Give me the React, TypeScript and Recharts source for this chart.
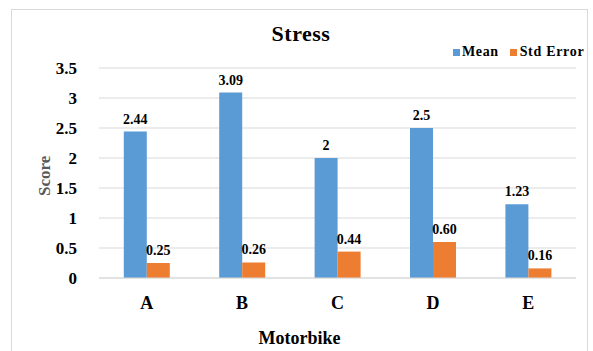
import { Bar, BarChart, CartesianGrid, LabelList, XAxis, YAxis } from 'recharts'

const categories = ['A', 'B', 'C', 'D', 'E']
const meanValues = [2.44, 3.09, 2, 2.5, 1.23]
const stdErrorValues = [0.25, 0.26, 0.44, 0.6, 0.16]
const stdErrorLabels = ['0.25', '0.26', '0.44', '0.60', '0.16']
const yTicks = [0, 0.5, 1, 1.5, 2, 2.5, 3, 3.5]

const data = categories.map((name, i) => ({
  name,
  mean: meanValues[i],
  stdError: stdErrorValues[i],
  stdErrorLabel: stdErrorLabels[i],
}))

const font = '"Liberation Serif", "Times New Roman", serif'
const blue = '#5B9BD5'
const orange = '#ED7D31'

export default function App() {
  return (
    <div style={{ position: 'absolute', left: 0, top: 0, width: 593, height: 351, background: '#fff', fontFamily: font }}>
      <div
        style={{
          position: 'absolute',
          left: 11,
          top: 9,
          width: 577,
          height: 360,
          border: '1px solid #d9d9d9',
          boxSizing: 'border-box',
        }}
      />
      <div
        style={{
          position: 'absolute',
          left: 0,
          width: 602,
          top: 21,
          textAlign: 'center',
          fontWeight: 'bold',
          fontSize: 22,
          letterSpacing: 0.5,
          color: '#000',
        }}
      >
        Stress
      </div>
      <div
        style={{
          position: 'absolute',
          left: 453,
          top: 44,
          display: 'flex',
          alignItems: 'center',
          fontWeight: 'bold',
          fontSize: 14,
          color: '#000',
        }}
      >
        <span style={{ width: 7, height: 7, background: blue, marginRight: 2 }} />
        <span style={{ marginRight: 11, letterSpacing: 0.6 }}>Mean</span>
        <span style={{ width: 7, height: 7, background: orange, marginRight: 3 }} />
        <span style={{ letterSpacing: 0.7 }}>Std Error</span>
      </div>
      <BarChart
        width={593}
        height={351}
        data={data}
        margin={{ top: 68, right: 17, bottom: 0, left: 0 }}
        barCategoryGap="26%"
        barGap={0}
        style={{ position: 'absolute', left: 0, top: 0 }}
      >
        <CartesianGrid vertical={false} stroke="#d9d9d9" strokeWidth={1} />
        <XAxis
          dataKey="name"
          height={73}
          axisLine={{ stroke: '#d9d9d9' }}
          tickLine={false}
          tickMargin={12}
          tick={{ fill: '#000', fontSize: 18, fontWeight: 'bold', fontFamily: font }}
          label={{
            value: 'Motorbike',
            position: 'insideBottom',
            offset: 7,
            dx: -38,
            fill: '#000',
            fontSize: 18,
            fontWeight: 'bold',
            fontFamily: font,
          }}
        />
        <YAxis
          width={99}
          domain={[0, 3.5]}
          ticks={yTicks}
          interval={0}
          axisLine={false}
          tickLine={false}
          tickMargin={16}
          tick={{ fill: '#000', fontSize: 17, fontWeight: 'bold', fontFamily: font }}
          label={{
            value: 'Score',
            angle: -90,
            position: 'insideLeft',
            offset: 44,
            dy: 23,
            fill: '#595959',
            fontSize: 17,
            fontWeight: 'bold',
            fontFamily: font,
          }}
        />
        <Bar dataKey="mean" fill={blue} isAnimationActive={false}>
          <LabelList
            dataKey="mean"
            position="top"
            offset={8}
            fill="#000"
            fontSize={14}
            fontWeight="bold"
            fontFamily={font}
          />
        </Bar>
        <Bar dataKey="stdError" fill={orange} isAnimationActive={false}>
          <LabelList
            dataKey="stdErrorLabel"
            position="top"
            offset={8}
            fill="#000"
            fontSize={14}
            fontWeight="bold"
            fontFamily={font}
          />
        </Bar>
      </BarChart>
    </div>
  )
}
